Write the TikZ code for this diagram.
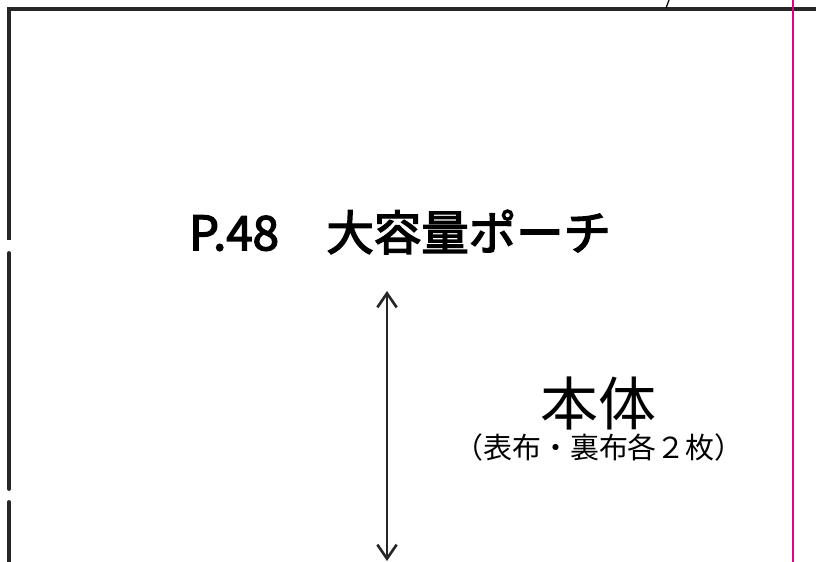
\documentclass[tikz,border=0pt]{standalone}
\usepackage{fontspec}
\newfontfamily\jpfont{Noto Sans CJK JP}
\newfontfamily\jpmid{Noto Sans CJK JP}[FakeBold=3]
\usepackage{tikz}
\usetikzlibrary{arrows.meta}
\definecolor{mypink}{HTML}{E6007E}
\tikzset{
  cutline/.style={line width=2.2pt, black!85, line cap=round},
  foldline/.style={line width=1.3pt, mypink},
  sizearrow/.style={line width=1.5pt, black!85, {Straight Barb[length=8pt,width=11pt]}-{Straight Barb[length=8pt,width=11pt]}}
}
\begin{document}
\begin{tikzpicture}[x=0.02cm,y=-0.02cm]
			\useasboundingbox (0,0) rectangle (816,562);
			% outline
			\draw [cutline,line cap=butt] (816,9) -- (9,9) -- (9,240);
			\draw [cutline] (9,253) -- (9,489);
			\draw [cutline] (9,502) -- (9,570);
			\draw [line width=0.7pt] (669,0) -- (666,8);
			\draw [foldline] (793,0) -- (793,562);
			% titles
			\node (title) at (400,232) {\jpmid\fontsize{27}{27}\selectfont P.48　大容量ポーチ};
			\node (part) at (598,403) {\jpfont\fontsize{33}{33}\selectfont 本体};
			\node (note) at (599,447) {\jpfont\fontsize{16.5}{16.5}\selectfont （表布・裏布各２枚）};
			% size arrow
			\coordinate (top) at (387,291);
			\coordinate (bot) at (387,561);
			\draw [sizearrow] (top) -- (bot);
		\end{tikzpicture}
\end{document}
